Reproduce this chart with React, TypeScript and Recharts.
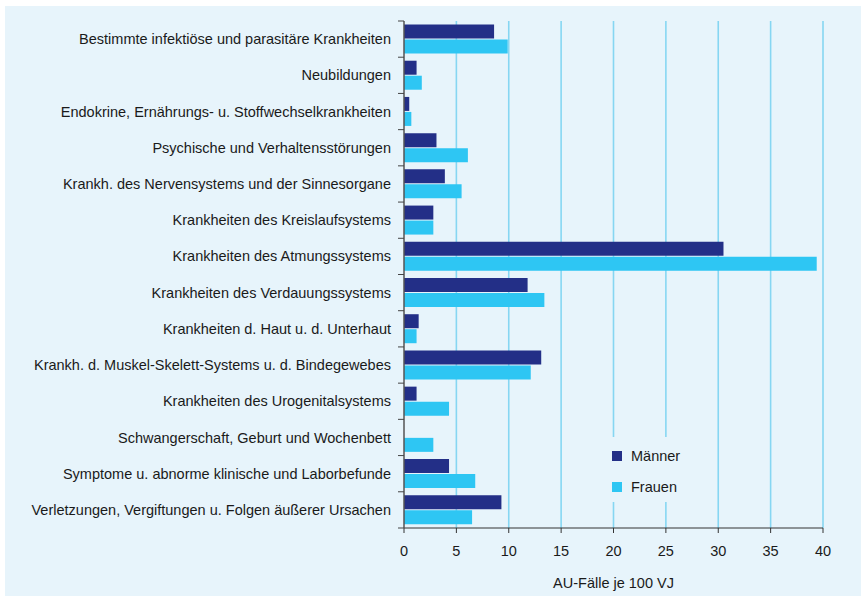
import React from 'react';
import {
  BarChart,
  Bar,
  XAxis,
  YAxis,
  CartesianGrid,
} from 'recharts';

const categories = [
  'Bestimmte infektiöse und parasitäre Krankheiten',
  'Neubildungen',
  'Endokrine, Ernährungs- u. Stoffwechselkrankheiten',
  'Psychische und Verhaltensstörungen',
  'Krankh. des Nervensystems und der Sinnesorgane',
  'Krankheiten des Kreislaufsystems',
  'Krankheiten des Atmungssystems',
  'Krankheiten des Verdauungssystems',
  'Krankheiten d. Haut u. d. Unterhaut',
  'Krankh. d. Muskel-Skelett-Systems u. d. Bindegewebes',
  'Krankheiten des Urogenitalsystems',
  'Schwangerschaft, Geburt und Wochenbett',
  'Symptome u. abnorme klinische und Laborbefunde',
  'Verletzungen, Vergiftungen u. Folgen äußerer Ursachen',
];

const maenner = [8.6, 1.2, 0.5, 3.1, 3.9, 2.8, 30.5, 11.8, 1.4, 13.1, 1.2, 0, 4.3, 9.3];
const frauen = [9.9, 1.7, 0.7, 6.1, 5.5, 2.8, 39.4, 13.4, 1.2, 12.1, 4.3, 2.8, 6.8, 6.5];

const xTicks = [0, 5, 10, 15, 20, 25, 30, 35, 40];

const data = categories.map((name, i) => ({
  name,
  maenner: maenner[i],
  frauen: frauen[i],
}));

const W = 861;
const H = 596;
const TOP = 21;
const X_AXIS_H = 68;
const Y_AXIS_W = 404;
const BAND = (H - TOP - X_AXIS_H) / categories.length;

const BG = '#e7f4fb';
const DARK = '#232f87';
const LIGHT = '#2ec6f3';
const FONT = '"Liberation Sans", Arial, sans-serif';
const FS = 14.5;

const series = [
  { key: 'maenner', label: 'Männer', color: DARK },
  { key: 'frauen', label: 'Frauen', color: LIGHT },
];

function CategoryTick(props: any) {
  const { y, payload, index } = props;
  const lineX = Y_AXIS_W;
  return (
    <g>
      <line x1={lineX - 6} x2={lineX} y1={y - BAND / 2} y2={y - BAND / 2} stroke="#444" />
      {index === categories.length - 1 && (
        <line x1={lineX - 6} x2={lineX} y1={y + BAND / 2} y2={y + BAND / 2} stroke="#444" />
      )}
      <text
        x={lineX - 13}
        y={y}
        dy="0.35em"
        textAnchor="end"
        fontFamily={FONT}
        fontSize={FS}
        fill="#1a1a1a"
      >
        {payload.value}
      </text>
    </g>
  );
}

// legend sits inside the plot, over the gridlines
function LegendBox() {
  return (
    <div
      style={{
        position: 'absolute',
        left: 600,
        top: 437,
        width: 105,
        height: 65,
        background: BG,
      }}
    >
      {series.map((s, i) => (
        <div key={s.key}>
          <div
            style={{
              position: 'absolute',
              left: 12,
              top: 14 + i * 30.5,
              width: 10,
              height: 10,
              background: s.color,
            }}
          />
          <div
            style={{
              position: 'absolute',
              left: 31,
              top: 10 + i * 30.5,
              fontFamily: FONT,
              fontSize: FS,
              lineHeight: '18px',
              color: '#1a1a1a',
            }}
          >
            {s.label}
          </div>
        </div>
      ))}
    </div>
  );
}

export default function App() {
  return (
    <div style={{ position: 'absolute', left: 0, top: 0, width: W, height: H, background: '#fff' }}>
      <div style={{ position: 'absolute', left: 5, top: 6, right: 0, bottom: 0, background: BG }} />
      <div style={{ position: 'absolute', left: 0, top: 0 }}>
        <BarChart
          width={W}
          height={H}
          data={data}
          layout="vertical"
          margin={{ top: TOP, right: 38, bottom: 0, left: 0 }}
          barCategoryGap={3.5}
          barGap={1}
        >
          <CartesianGrid
            horizontal={false}
            stroke="#86d6f2"
            strokeWidth={1.6}
            verticalCoordinatesGenerator={(p: any) =>
              xTicks.slice(1).map((t) => p.offset.left + (t / 40) * p.offset.width)
            }
          />
          <XAxis
            type="number"
            domain={[0, 40]}
            ticks={xTicks}
            interval={0}
            height={X_AXIS_H}
            tickSize={5}
            tickMargin={13}
            stroke="#333"
            tick={{ fontFamily: FONT, fontSize: FS, fill: '#1a1a1a' }}
            label={{
              value: 'AU-Fälle je 100 VJ',
              position: 'insideBottom',
              offset: 8,
              style: { fontFamily: FONT, fontSize: FS, fill: '#1a1a1a' },
            }}
          />
          <YAxis
            type="category"
            dataKey="name"
            width={Y_AXIS_W}
            interval={0}
            tickLine={false}
            stroke="#555"
            strokeWidth={1.5}
            tick={<CategoryTick />}
          />
          {series.map((s) => (
            <Bar
              key={s.key}
              dataKey={s.key}
              name={s.label}
              fill={s.color}
              isAnimationActive={false}
            />
          ))}
        </BarChart>
      </div>
      <LegendBox />
    </div>
  );
}
